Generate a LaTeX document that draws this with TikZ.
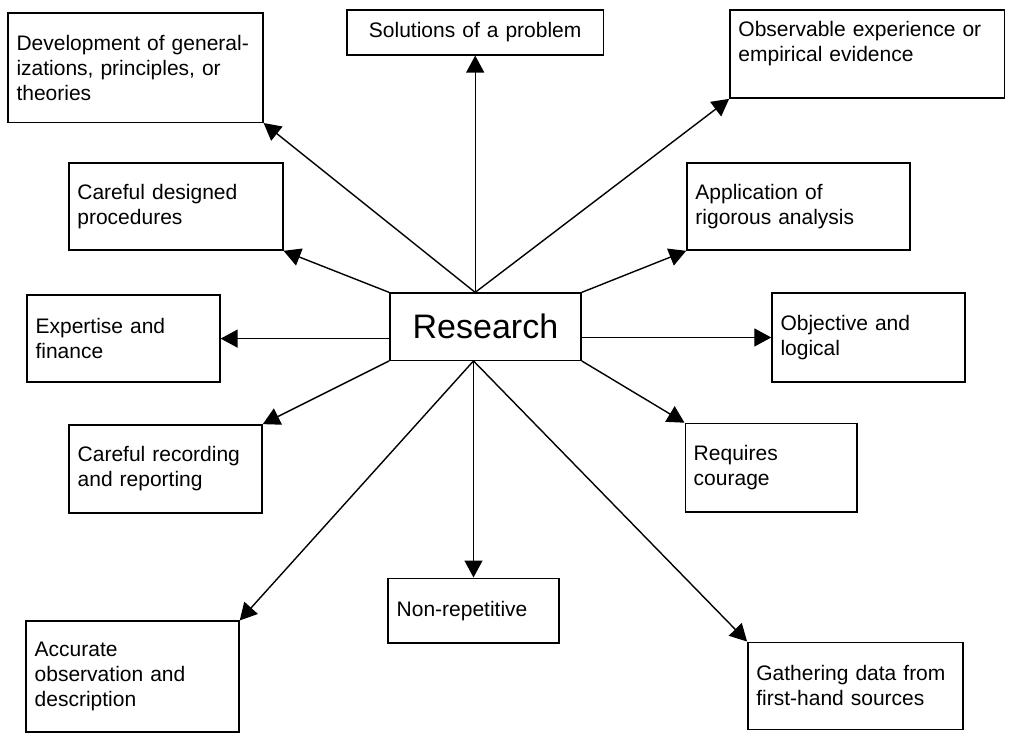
\documentclass[tikz,border=0pt]{standalone}
\usepackage{fontspec}
\setmainfont{Liberation Sans}
\usepackage{tikz}
\usetikzlibrary{arrows.meta}
\tikzset{
  idea/.style={draw, line width=0.7pt, inner xsep=0.15cm, align=left,
    font=\fontsize{10.5}{12.5}\selectfont},
  link/.style={->, line width=0.7pt},
}

\begin{document}
\begin{tikzpicture}[>={Triangle[length=8.5pt,width=9pt]}]
            \useasboundingbox (0,0) rectangle (17.80,-13.06);
            % centre
            \node[idea, align=center, text width=3.06cm, minimum height=1.18cm, font=\fontsize{17}{20}\selectfont] (research) at (8.53,-5.74) {Research};
            % outer boxes
            \node[idea, text width=4.18cm, minimum height=1.92cm] (develop) at (2.38,-1.19) {Development of general-\\izations, principles, or\\theories};
            \node[idea, align=center, text width=4.20cm, minimum height=0.79cm] (solution) at (8.35,-0.57) {Solutions of a problem};
            \node[idea, text width=4.53cm, minimum height=1.55cm] (observe) at (15.24,-0.95) {Observable experience or\\empirical evidence\\\mbox{}};
            \node[idea, text width=3.46cm, minimum height=1.53cm] (design) at (3.09,-3.63) {Careful designed\\procedures};
            \node[idea, text width=3.62cm, minimum height=1.53cm] (analysis) at (14.03,-3.63) {Application of\\rigorous analysis};
            \node[idea, text width=3.09cm, minimum height=1.53cm] (expert) at (2.17,-5.95) {Expertise and\\finance};
            \node[idea, text width=3.09cm, minimum height=1.56cm] (logic) at (15.26,-5.93) {Objective and\\logical};
            \node[idea, text width=3.09cm, minimum height=1.55cm] (record) at (2.91,-8.24) {Careful recording\\and reporting};
            \node[idea, text width=2.72cm, minimum height=1.56cm] (courage) at (13.55,-8.22) {Requires\\courage};
            \node[idea, text width=2.70cm, minimum height=1.14cm] (norepeat) at (8.32,-10.73) {Non-repetitive};
            \node[idea, text width=3.44cm, minimum height=1.95cm] (accurate) at (2.33,-11.89) {Accurate\\observation and\\description};
            \node[idea, text width=3.48cm, minimum height=1.53cm] (gather) at (15.03,-12.05) {Gathering data from\\first-hand sources};
            % where the vertical spokes meet the centre box
            \coordinate (hubN) at (research.north -| solution.south);
            \coordinate (hubS) at (research.south -| norepeat.north);
            % spokes
            \draw[link] (hubN) -- (develop.south east);
            \draw[link] (hubN) -- (solution.south);
            \draw[link] (hubN) -- (observe.south west);
            \draw[link] (research.north west) -- (design.south east);
            \draw[link] (research.north east) -- (analysis.south west);
            \draw[link] (research.west |- expert.east) -- (expert.east);
            \draw[link] (research.east |- logic.west) -- (logic.west);
            \draw[link] (research.south west) -- (record.north east);
            \draw[link] (research.south east) -- (courage.north west);
            \draw[link] (hubS) -- (accurate.north east);
            \draw[link] (hubS) -- (norepeat.north);
            \draw[link] (hubS) -- (gather.north west);
        \end{tikzpicture}
\end{document}
